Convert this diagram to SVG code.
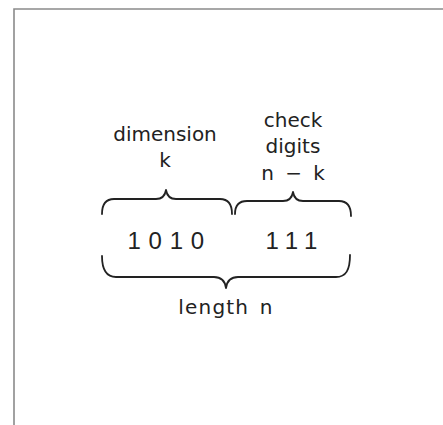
<svg xmlns="http://www.w3.org/2000/svg" width="443" height="425" viewBox="0 0 443 425">
<style>
.t{font-family:"DejaVu Sans",sans-serif;font-size:20px;fill:#222;text-anchor:middle}
.d{font-family:"Liberation Sans",Arial,sans-serif;font-size:24px;fill:#222;letter-spacing:7.8px}
.b{fill:none;stroke:#222;stroke-width:1.8;stroke-linecap:round;stroke-linejoin:round}
.f{fill:none;stroke:#8a8a8a;stroke-width:1.6}
</style>
<rect width="443" height="425" fill="#fff"/>
<path class="f" d="M14,425 V9 H443"/>
<g id="dimension-label">
<text class="t" x="165" y="141">dimension</text>
<text class="t" x="165" y="167">k</text>
</g>
<g id="check-label">
<text class="t" x="293" y="127">check</text>
<text class="t" x="293" y="153">digits</text>
<text class="t" x="293" y="180" word-spacing="5">n − k</text>
</g>
<g id="data">
<text class="d" x="127.4" y="249">1010</text>
<text class="d" x="265.4" y="249">111</text>
</g>
<g id="braces">
<path class="b" d="M102,214 C102,204 106,199 114,199 L156,199 C162,199 165,196 166,190 C167,196 170,199 176,199 L220,199 C228,199 232,204 232,214"/>
<path class="b" d="M235,214 C235,205 239,201 247,201 L283,201 C289,201 292,198 293,192 C294,198 297,201 303,201 L339,201 C347,201 351,206 351,216"/>
<path class="b" d="M102,256 C102,270 106,277 116,277 L214,277 C221,277 225,281 226,288 C227,281 231,277 238,277 L336,277 C346,277 350,270 350,255"/>
</g>
<g id="length-label">
<text class="t" x="226" y="314" letter-spacing="1.2" word-spacing="3">length n</text>
</g>
</svg>
